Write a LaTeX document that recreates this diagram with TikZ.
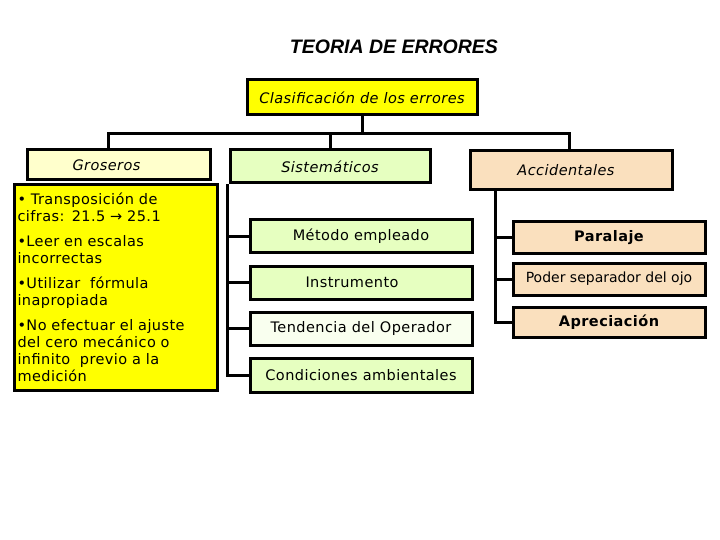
\documentclass[tikz,border=0pt]{standalone}
\usepackage{fontspec}
\setmainfont[LetterSpace=3]{DejaVu Sans}
\newfontfamily\titlefont{Liberation Sans}
\newfontfamily\plainfont{DejaVu Sans}
\usetikzlibrary{positioning,calc}
\definecolor{amarillo}{RGB}{255,255,0}
\definecolor{crema}{RGB}{255,255,204}
\definecolor{verde}{RGB}{230,255,192}
\definecolor{durazno}{RGB}{250,224,190}
\tikzset{
  blk/.style={draw,rectangle,line width=3pt,align=center,inner sep=2pt,font=\fontsize{14.5}{17}\selectfont},
  rootblk/.style={blk,fill=amarillo,minimum width=230pt,minimum height=35pt,font=\fontsize{14.5}{17}\selectfont\itshape},
  catblk/.style={blk,font=\fontsize{14.5}{17}\selectfont\itshape},
  sisblk/.style={blk,fill=verde,minimum width=222pt,minimum height=33pt},
  accblk/.style={blk,fill=durazno,minimum width=192pt,minimum height=31pt},
  detblk/.style={blk,fill=amarillo,align=left,text width=196pt,minimum width=203pt,minimum height=205pt,inner sep=3pt},
  link/.style={line width=3pt}
}
\begin{document}
\begin{tikzpicture}[x=1pt,y=-1pt]
  \useasboundingbox[fill=white] (0,0) rectangle (720,540);
  % Title
  \node[font=\titlefont\fontsize{19.5}{22}\selectfont\bfseries\itshape] (title) at (394,47) {TEORIA DE ERRORES};

  % Root and categories
  \node[rootblk] (root) at (362,97.5) {Clasificación de los errores};
  \node[catblk, fill=crema, minimum width=183pt, minimum height=30pt] (gros) at (118.5,165) {\hspace*{-24pt}Groseros};
  \node[catblk, fill=verde, minimum width=200pt, minimum height=33pt] (sist) at (330,166.5) {Sistemáticos};
  \node[catblk, fill=durazno, minimum width=202pt, minimum height=39pt] (acc) at (571,170.5) {\hspace*{-10pt}Accidentales};
  \coordinate (bar) at (0,134);

  % Tree connectors
  \draw[link] (root.south) -- (root.south |- bar);
  \draw[link] ([xshift=-10pt]gros.north) -- ([xshift=-10pt]gros.north |- bar) -- ([xshift=-2pt]acc.north |- bar) -- ([xshift=-2pt]acc.north);
  \draw[link] (sist.north) -- (sist.north |- bar);

  % Groseros
  \node[detblk] (det) at (115.5,287.5) {%
    • Transposición de\\ cifras: 21.5 → 25.1\\[8pt]
    •Leer en escalas\\ incorrectas\\[8pt]
    •Utilizar~ fórmula\\ inapropiada\\[8pt]
    •No efectuar el ajuste\\ del cero mecánico o\\ infinito~ previo a la\\ medición};

  % Sistematicos
  \node[sisblk] (met) at (361,236) {Método empleado};
  \node[sisblk] (inst) at (361,282.5) {\hspace*{-18pt}Instrumento};
  \node[sisblk, fill=verde!25] (tend) at (361,328.5) {Tendencia del Operador};
  \node[sisblk, minimum height=34pt] (cond) at (361,375) {Condiciones ambientales};
  \coordinate (sspine) at ([xshift=-1pt]sist.south west);
  \draw[link] (sspine) -- (sspine |- cond.west) -- (cond.west);
  \foreach \n in {met,inst,tend}
    \draw[link] (sspine |- \n.west) -- (\n.west);

  % Accidentales
  \node[accblk, font=\fontsize{14.5}{17}\selectfont\bfseries] (par) at (609,237.5) {Paralaje};
  \node[accblk, minimum height=32pt, font=\plainfont\fontsize{14}{17}\selectfont] (pod) at (609,279) {Poder separador del ojo};
  \node[accblk, minimum height=30pt, font=\fontsize{14.5}{17}\selectfont\bfseries] (apr) at (609,322) {Apreciación};
  \coordinate (aspine) at ([xshift=27pt]acc.south west);
  \draw[link] (aspine) -- (aspine |- apr.west) -- (apr.west);
  \foreach \n in {par,pod}
    \draw[link] (aspine |- \n.west) -- (\n.west);
\end{tikzpicture}
\end{document}
